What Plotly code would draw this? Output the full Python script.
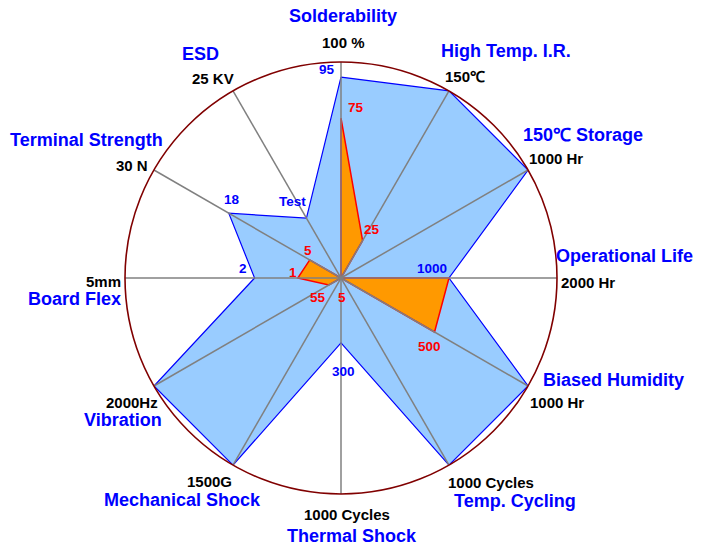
import plotly.graph_objects as go

# ---------------- data ----------------
categories = ["Solderability", "High Temp. I.R.", "150℃ Storage", "Operational Life",
              "Biased Humidity", "Temp. Cycling", "Thermal Shock", "Mechanical Shock",
              "Vibration", "Board Flex", "Terminal Strength", "ESD"]
max_labels = ["100 %", "150℃", "1000 Hr", "2000 Hr", "1000 Hr", "1000 Cycles",
              "1000 Cycles", "1500G", "2000Hz", "5mm", "30 N", "25 KV"]
# values as % of each axis maximum
capability = [93, 100, 100, 50, 100, 100, 30, 100, 100, 40, 60, 32]
requirement = [74, 20, 0, 50, 50, 0, 0, 0, 6.5, 20, 16.7, 0]
capability_labels = ["95", "1000", "300", "2", "18", "Test"]
requirement_labels = ["75", "25", "500", "5", "55", "1", "5"]

# ---------------- layout helpers ----------------
W, H = 703, 550
CX, CY, R = 341, 278, 216
FONT = "Liberation Sans, Arial, sans-serif"
BLUE, RED, BLACK = "#0000FF", "#FF0000", "#000000"


def px(x, y):
    return x / W, 1 - y / H


fig = go.Figure()

fig.add_trace(go.Scatterpolar(
    r=capability + capability[:1], theta=categories + categories[:1],
    mode="lines", fill="toself", fillcolor="#99CCFF",
    line=dict(color=BLUE, width=1.2), hoverinfo="skip", showlegend=False))

fig.add_trace(go.Scatterpolar(
    r=requirement + requirement[:1], theta=categories + categories[:1],
    mode="lines", fill="toself", fillcolor="#FF9900",
    line=dict(color=RED, width=1.5), hoverinfo="skip", showlegend=False))

# spokes drawn above the fills
spoke_r, spoke_t = [], []
for c in categories:
    spoke_r += [0, 100, None]
    spoke_t += [c, c, None]
fig.add_trace(go.Scatterpolar(
    r=spoke_r, theta=spoke_t, mode="lines",
    line=dict(color="#808080", width=1.5), hoverinfo="skip", showlegend=False))

annotations = []

# category names (blue)
name_pos = [(343, 16, "center"), (506, 51, "center"), (583, 135, "center"),
            (624, 256, "center"), (613, 380, "center"), (515, 501, "center"),
            (352, 536, "center"), (182, 500, "center"), (123, 420, "center"),
            (123, 299, "right"), (86, 140, "center"), (200, 54, "center")]
for txt, (x, y, a) in zip(categories, name_pos):
    ax, ay = px(x, y)
    annotations.append(dict(x=ax, y=ay, xref="paper", yref="paper", text=txt,
                            showarrow=False, xanchor=a, yanchor="middle",
                            font=dict(family=FONT, size=18, color=BLUE, weight="bold")))

# axis maxima (black)
max_pos = [(343, 42, "center"), (443, 76, "left"), (527, 158, "left"),
           (559, 282, "left"), (528, 402, "left"), (446, 482, "left"),
           (347, 514, "center"), (234, 481, "right"), (160, 402, "right"),
           (123, 281, "right"), (150, 165, "right"), (236, 78, "right")]
for txt, (x, y, a) in zip(max_labels, max_pos):
    ax, ay = px(x, y)
    annotations.append(dict(x=ax, y=ay, xref="paper", yref="paper", text=txt,
                            showarrow=False, xanchor=a, yanchor="middle",
                            font=dict(family=FONT, size=15, color=BLACK, weight="bold")))

cap_pos = [(327, 70), (432, 268), (343, 371), (243, 269), (232, 199), (292, 202)]
for txt, (x, y) in zip(capability_labels, cap_pos):
    ax, ay = px(x, y)
    annotations.append(dict(x=ax, y=ay, xref="paper", yref="paper", text=txt,
                            showarrow=False, xanchor="center", yanchor="middle",
                            font=dict(family=FONT, size=13.5, color=BLUE, weight="bold")))

req_pos = [(356, 108), (372, 229), (429, 346), (342, 297), (318, 297), (293, 272), (308, 250)]
for txt, (x, y) in zip(requirement_labels, req_pos):
    ax, ay = px(x, y)
    annotations.append(dict(x=ax, y=ay, xref="paper", yref="paper", text=txt,
                            showarrow=False, xanchor="center", yanchor="middle",
                            font=dict(family=FONT, size=13.5, color=RED, weight="bold")))

fig.update_layout(
    width=W, height=H,
    margin=dict(l=0, r=0, t=0, b=0),
    paper_bgcolor="white",
    showlegend=False,
    annotations=annotations,
    polar=dict(
        domain=dict(x=[(CX - R) / W, (CX + R) / W], y=[1 - (CY + R) / H, 1 - (CY - R) / H]),
        bgcolor="white",
        radialaxis=dict(visible=False, range=[0, 100], showgrid=False),
        angularaxis=dict(type="category", categoryarray=categories,
                         rotation=90, direction="clockwise",
                         showgrid=False, showticklabels=False, ticks="",
                         showline=True, linecolor="#800000", linewidth=1.6,
                         layer="above traces"),
    ),
)

fig.write_html("out.html",
               config={"displayModeBar": False},
               post_script="document.body.style.margin='0px';document.body.style.overflow='hidden';")
